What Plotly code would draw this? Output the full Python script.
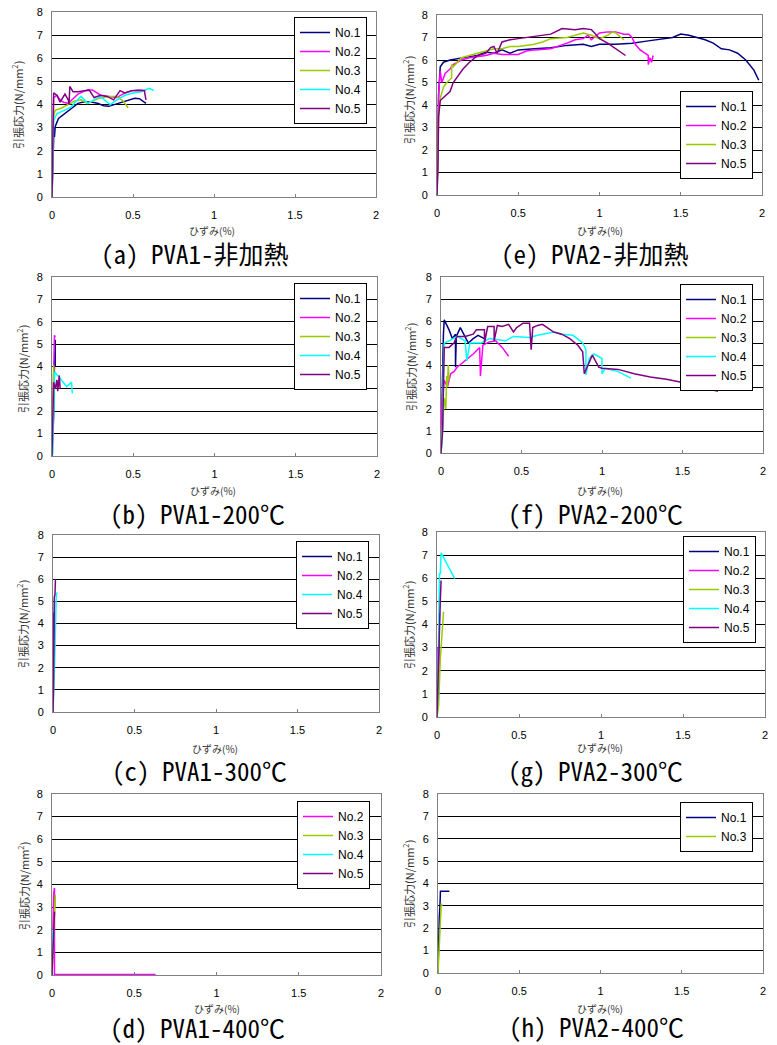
import plotly.graph_objects as go

W, H = 777, 1045

SERIES_COLORS = {"No.1": "#000080", "No.2": "#FF00FF", "No.3": "#99CC00",
                 "No.4": "#00FFFF", "No.5": "#800080"}

X_TICKS = [0, 0.5, 1, 1.5, 2]
Y_TICKS = [0, 1, 2, 3, 4, 5, 6, 7, 8]

CAPTIONS = ["(a) PVA1-非加熱", "(e) PVA2-非加熱", "(b) PVA1-200℃", "(f) PVA2-200℃",
            "(c) PVA1-300℃", "(g) PVA2-300℃", "(d) PVA1-400℃", "(h) PVA2-400℃"]
X_TITLE = "ひずみ(%)"
Y_TITLE = "引張応力(N/mm<sup>2</sup>)"

# ---------------- (a) PVA1-非加熱 ----------------
a_no1_x = [0, 0.005, 0.01, 0.012, 0.015, 0.02, 0.04, 0.08, 0.12, 0.16, 0.2, 0.25, 0.28, 0.32, 0.35, 0.39, 0.45, 0.51, 0.54, 0.58]
a_no1_y = [0, 1.5, 2.5, 3.0, 2.6, 3.05, 3.4, 3.62, 3.84, 4.05, 4.12, 4.1, 4.05, 3.95, 3.92, 4.01, 4.16, 4.27, 4.25, 4.05]
a_no2_x = [0, 0.005, 0.01, 0.03, 0.05, 0.07, 0.1, 0.13, 0.16, 0.19, 0.22, 0.25, 0.3, 0.35, 0.4, 0.45, 0.5, 0.55, 0.58]
a_no2_y = [0, 2.5, 4.3, 4.4, 4.2, 4.1, 4.05, 4.25, 4.45, 4.55, 4.63, 4.63, 4.4, 4.35, 4.3, 4.5, 4.6, 4.62, 4.6]
a_no3_x = [0, 0.005, 0.01, 0.02, 0.06, 0.1, 0.14, 0.18, 0.22, 0.28, 0.35, 0.4, 0.44, 0.47]
a_no3_y = [0, 2.5, 3.5, 3.75, 3.85, 4.0, 4.15, 4.2, 4.05, 4.25, 4.35, 4.35, 4.15, 3.85]
a_no4_x = [0, 0.005, 0.01, 0.03, 0.08, 0.12, 0.15, 0.18, 0.2, 0.22, 0.26, 0.3, 0.34, 0.36, 0.4, 0.45, 0.5, 0.55, 0.6, 0.63]
a_no4_y = [0, 2.8, 3.3, 3.6, 3.75, 3.9, 4.15, 4.35, 4.2, 4.05, 4.2, 4.35, 4.1, 4.0, 4.2, 4.4, 4.5, 4.55, 4.7, 4.6]
a_no5_x = [0, 0.003, 0.006, 0.01, 0.03, 0.05, 0.08, 0.1, 0.105, 0.11, 0.13, 0.16, 0.2, 0.23, 0.26, 0.3, 0.34, 0.38, 0.42, 0.45, 0.49, 0.53, 0.57, 0.575, 0.58]
a_no5_y = [0, 2.0, 4.3, 4.5, 4.4, 4.1, 4.45, 4.2, 4.0, 4.78, 4.55, 4.55, 4.6, 4.62, 4.3, 4.4, 4.35, 4.2, 4.6, 4.5, 4.6, 4.62, 4.6, 4.4, 4.2]

# ---------------- (e) PVA2-非加熱 ----------------
e_no1_x = [0, 0.005, 0.01, 0.02, 0.04, 0.08, 0.15, 0.2, 0.25, 0.3, 0.35, 0.4, 0.45, 0.5, 0.6, 0.7, 0.8, 0.9, 0.95, 1.0, 1.1, 1.2, 1.3, 1.4, 1.45, 1.5, 1.55, 1.6, 1.65, 1.7, 1.75, 1.8, 1.85, 1.9, 1.95, 1.98]
e_no1_y = [0, 2.0, 4.5, 5.7, 5.9, 6.0, 6.1, 6.15, 6.2, 6.35, 6.3, 6.45, 6.3, 6.45, 6.5, 6.55, 6.65, 6.7, 6.6, 6.7, 6.7, 6.75, 6.85, 6.95, 7.0, 7.15, 7.1, 7.0, 6.9, 6.75, 6.5, 6.45, 6.3, 6.0, 5.55, 5.1]
e_no2_x = [0, 0.005, 0.01, 0.02, 0.03, 0.05, 0.08, 0.1, 0.15, 0.2, 0.3, 0.35, 0.4, 0.5, 0.55, 0.6, 0.7, 0.8, 0.85, 0.9, 0.93, 0.95, 1.0, 1.05, 1.1, 1.15, 1.18, 1.2, 1.22, 1.25, 1.3, 1.3, 1.31, 1.32, 1.33]
e_no2_y = [0, 2.0, 4.5, 5.5, 5.0, 5.4, 5.6, 5.8, 6.0, 6.1, 6.2, 6.3, 6.25, 6.25, 6.4, 6.45, 6.5, 6.75, 6.9, 6.95, 7.1, 6.9, 7.2, 7.25, 7.25, 7.15, 7.15, 7.0, 6.7, 6.45, 6.2, 5.8, 6.1, 5.9, 6.2]
e_no3_x = [0, 0.005, 0.01, 0.02, 0.04, 0.06, 0.09, 0.09, 0.1, 0.15, 0.2, 0.25, 0.3, 0.35, 0.4, 0.45, 0.5, 0.55, 0.6, 0.65, 0.7, 0.8, 0.85, 0.9, 0.95, 1.0, 1.05, 1.08, 1.1, 1.15]
e_no3_y = [0, 1.5, 3.5, 4.3, 4.8, 5.0, 5.2, 5.8, 5.7, 6.1, 6.2, 6.3, 6.4, 6.5, 6.5, 6.6, 6.6, 6.65, 6.7, 6.8, 6.95, 7.0, 7.1, 7.2, 7.1, 6.95, 7.1, 7.25, 7.2, 6.9]
e_no5_x = [0, 0.005, 0.01, 0.02, 0.05, 0.08, 0.1, 0.13, 0.16, 0.2, 0.25, 0.3, 0.33, 0.35, 0.37, 0.4, 0.45, 0.5, 0.55, 0.6, 0.65, 0.7, 0.77, 0.85, 0.9, 0.95, 0.97, 1.0, 1.05, 1.1, 1.16]
e_no5_y = [0, 1.0, 3.5, 4.2, 4.4, 4.6, 5.0, 5.3, 5.6, 5.9, 6.2, 6.3, 6.55, 6.6, 6.3, 6.8, 6.9, 6.95, 7.0, 7.05, 7.1, 7.15, 7.4, 7.35, 7.4, 7.35, 7.2, 6.95, 6.75, 6.5, 6.2]

# ---------------- (b) PVA1-200℃ ----------------
b_no1_x = [0, 0.01, 0.015, 0.02, 0.02]
b_no1_y = [0, 1.8, 4.0, 5.2, 4.0]
b_no2_x = [0, 0.01, 0.015, 0.02]
b_no2_y = [0, 3.0, 5.4, 5.3]
b_no3_x = [0, 0.005, 0.01, 0.012]
b_no3_y = [0, 2.5, 4.05, 3.8]
b_no4_x = [0, 0.005, 0.01, 0.016, 0.04, 0.06, 0.09, 0.12, 0.125]
b_no4_y = [0, 0.1, 2.0, 3.75, 3.55, 3.35, 3.1, 3.3, 2.8]
b_no5_x = [0, 0.005, 0.01, 0.02, 0.03, 0.035, 0.045, 0.05]
b_no5_y = [0, 1.5, 3.3, 3.0, 3.4, 2.9, 3.6, 3.0]

# ---------------- (f) PVA2-200℃ ----------------
f_no1_x = [0, 0.005, 0.01, 0.015, 0.02, 0.05, 0.07, 0.09, 0.09, 0.095, 0.12, 0.15, 0.17, 0.2, 0.23, 0.27]
f_no1_y = [0, 2.0, 4.5, 5.4, 6.05, 5.6, 5.2, 5.4, 3.9, 5.3, 5.7, 5.3, 5.0, 5.2, 5.35, 5.2]
f_no2_x = [0, 0.005, 0.02, 0.04, 0.06, 0.08, 0.1, 0.15, 0.2, 0.24, 0.245, 0.26, 0.3, 0.34, 0.38, 0.42]
f_no2_y = [0, 2.1, 3.3, 3.0, 3.6, 3.7, 3.9, 4.2, 4.5, 4.8, 3.5, 4.9, 5.05, 5.1, 4.8, 4.4]
f_no3_x = [0, 0.01, 0.02, 0.03, 0.035, 0.04, 0.045, 0.05]
f_no3_y = [0, 1.5, 2.5, 2.0, 3.5, 3.0, 4.0, 3.3]
f_no4_x = [0, 0.01, 0.015, 0.02, 0.05, 0.1, 0.15, 0.16, 0.18, 0.25, 0.3, 0.4, 0.45, 0.55, 0.6, 0.7, 0.75, 0.82, 0.88, 0.9, 0.9, 0.92, 0.95, 0.98, 1.0, 1.0, 1.02, 1.1, 1.18]
f_no4_y = [0, 1.0, 4.0, 5.0, 5.1, 5.3, 5.1, 4.2, 5.0, 5.0, 5.2, 5.1, 5.3, 5.25, 5.35, 5.5, 5.4, 5.35, 5.0, 4.7, 3.55, 4.3, 4.5, 4.4, 4.3, 3.6, 3.85, 3.7, 3.4]
f_no5_x = [0, 0.01, 0.02, 0.05, 0.08, 0.1, 0.15, 0.2, 0.22, 0.27, 0.27, 0.29, 0.33, 0.33, 0.35, 0.38, 0.42, 0.45, 0.47, 0.51, 0.55, 0.56, 0.57, 0.6, 0.63, 0.66, 0.7, 0.75, 0.8, 0.85, 0.88, 0.89, 0.94, 0.98, 1.0, 1.1, 1.2, 1.3, 1.4, 1.5, 1.6, 1.72]
f_no5_y = [0, 1.0, 4.8, 4.8, 5.0, 5.3, 5.3, 5.4, 5.6, 5.6, 5.0, 5.75, 5.75, 5.1, 5.8, 5.75, 5.85, 5.5, 5.7, 5.9, 5.9, 4.7, 5.7, 5.8, 5.85, 5.7, 5.5, 5.4, 5.2, 4.9, 4.6, 3.6, 4.45, 3.9, 3.85, 3.8, 3.6, 3.45, 3.35, 3.2, 3.05, 2.8]

# ---------------- (c) PVA1-300℃ ----------------
c_no1_x = [0, 0.003, 0.006]
c_no1_y = [0, 2.0, 4.5]
c_no2_x = [0, 0.005, 0.01]
c_no2_y = [0, 3.0, 5.0]
c_no4_x = [0, 0.005, 0.01, 0.02, 0.025]
c_no4_y = [0, 1.0, 2.2, 5.3, 5.4]
c_no5_x = [0, 0.003, 0.008, 0.012, 0.015]
c_no5_y = [0, 1.0, 5.2, 5.3, 6.0]

# ---------------- (g) PVA2-300℃ ----------------
g_no1_x = [0, 0.005, 0.01, 0.015]
g_no1_y = [0, 0.8, 2.5, 4.5]
g_no2_x = [0, 0.003, 0.005]
g_no2_y = [0, 3.0, 2.5]
g_no3_x = [0, 0.01, 0.02, 0.03, 0.04]
g_no3_y = [0, 0.5, 2.5, 3.5, 4.55]
g_no4_x = [0, 0.005, 0.01, 0.015, 0.02, 0.025, 0.108]
g_no4_y = [0, 1.0, 3.5, 6.2, 6.2, 7.1, 5.98]
g_no5_x = [0, 0.005, 0.015, 0.02, 0.025]
g_no5_y = [0, 1.5, 4.5, 5.0, 5.9]

# ---------------- (d) PVA1-400℃ ----------------
d_no2_x = [0, 0.005, 0.01, 0.015, 0.015, 0.63]
d_no2_y = [0, 2.0, 3.6, 3.85, 0.02, 0.02]
d_no3_x = [0, 0.005, 0.01, 0.015, 0.02, 0.02]
d_no3_y = [0, 1.0, 2.0, 3.0, 3.55, 3.0]
d_no4_x = [0, 0.003, 0.005, 0.006]
d_no4_y = [0, 1.0, 2.0, 1.8]
d_no5_x = [0, 0.005, 0.01, 0.015, 0.015]
d_no5_y = [0, 1.0, 2.0, 2.8, 2.7]

# ---------------- (h) PVA2-400℃ ----------------
h_no1_x = [0, 0.003, 0.008, 0.012, 0.015, 0.015, 0.07]
h_no1_y = [0, 1.5, 2.5, 3.0, 3.4, 3.65, 3.65]
h_no3_x = [0, 0.005, 0.01, 0.015, 0.02, 0.025]
h_no3_y = [0, 1.0, 2.0, 2.5, 3.1, 3.0]

PANEL_SERIES = [
    [("No.1", a_no1_x, a_no1_y), ("No.2", a_no2_x, a_no2_y), ("No.3", a_no3_x, a_no3_y),
     ("No.4", a_no4_x, a_no4_y), ("No.5", a_no5_x, a_no5_y)],
    [("No.1", e_no1_x, e_no1_y), ("No.2", e_no2_x, e_no2_y), ("No.3", e_no3_x, e_no3_y),
     ("No.5", e_no5_x, e_no5_y)],
    [("No.1", b_no1_x, b_no1_y), ("No.2", b_no2_x, b_no2_y), ("No.3", b_no3_x, b_no3_y),
     ("No.4", b_no4_x, b_no4_y), ("No.5", b_no5_x, b_no5_y)],
    [("No.1", f_no1_x, f_no1_y), ("No.2", f_no2_x, f_no2_y), ("No.3", f_no3_x, f_no3_y),
     ("No.4", f_no4_x, f_no4_y), ("No.5", f_no5_x, f_no5_y)],
    [("No.1", c_no1_x, c_no1_y), ("No.2", c_no2_x, c_no2_y), ("No.4", c_no4_x, c_no4_y),
     ("No.5", c_no5_x, c_no5_y)],
    [("No.1", g_no1_x, g_no1_y), ("No.2", g_no2_x, g_no2_y), ("No.3", g_no3_x, g_no3_y),
     ("No.4", g_no4_x, g_no4_y), ("No.5", g_no5_x, g_no5_y)],
    [("No.2", d_no2_x, d_no2_y), ("No.3", d_no3_x, d_no3_y), ("No.4", d_no4_x, d_no4_y),
     ("No.5", d_no5_x, d_no5_y)],
    [("No.1", h_no1_x, h_no1_y), ("No.3", h_no3_x, h_no3_y)],
]

# ---------------- layout geometry (pixels) ----------------
PLOT_BOX = [  # x0, x1, ytop, ybottom
    (52, 376, 12, 197), (437, 762, 15, 195),
    (52, 377, 277, 456), (441, 763, 277, 453),
    (53, 379, 535, 712), (437, 765, 532, 717),
    (52, 381, 794, 975), (438, 763, 794, 973),
]
LEGEND_POS = [(367, 17), (753, 91), (367, 283), (753, 284), (369, 541), (756, 536), (370, 801), (753, 802)]
CAPTION_POS = [(195, 253), (595, 253), (197, 513), (595, 513), (199, 770), (595, 770), (197, 1027), (596, 1026)]
XTITLE_POS = [(212, 230), (600, 230), (213, 490), (600, 490), (215, 748), (600, 747), (217, 1008), (600, 1008)]
YTITLE_POS = [(18, 105), (408, 100), (22, 369), (410, 367), (22, 624), (408, 625), (23, 886), (408, 884)]

CJK = "Noto Sans Mono CJK JP, Noto Sans CJK JP"
CJK_UI = "Noto Sans CJK JP"
LAT = "Liberation Sans, Arial"

fig = go.Figure()
layout = dict(width=W, height=H, margin=dict(l=0, r=0, t=0, b=0, autoexpand=False),
              paper_bgcolor="white", plot_bgcolor="white", showlegend=True,
              font=dict(family=LAT, color="black", size=11))
annotations = []

for i, series in enumerate(PANEL_SERIES):
    k = i + 1
    sfx = "" if k == 1 else str(k)
    x0, x1, yt, yb = PLOT_BOX[i]
    legname = "legend" if k == 1 else f"legend{k}"
    for name, xs, ys in series:
        fig.add_trace(go.Scatter(
            x=xs, y=ys, mode="lines", name=name,
            line=dict(color=SERIES_COLORS[name], width=1.5),
            xaxis=f"x{sfx}", yaxis=f"y{sfx}", legend=legname,
        ))
    layout[f"xaxis{sfx}"] = dict(
        domain=[x0 / W, x1 / W], anchor=f"y{sfx}", range=[0, 2], automargin=False,
        tickvals=X_TICKS, showgrid=False, zeroline=False,
        showline=True, linecolor="#808080", linewidth=1, mirror=True,
        ticks="inside", ticklen=3, tickcolor="#808080",
        ticklabelstandoff=8, tickfont=dict(family=LAT, size=11, color="black"),
    )
    layout[f"yaxis{sfx}"] = dict(
        domain=[1 - yb / H, 1 - yt / H], anchor=f"x{sfx}", range=[0, 8], automargin=False,
        tickvals=Y_TICKS, showgrid=True, gridcolor="black", gridwidth=1,
        zeroline=False, showline=True, linecolor="#808080", linewidth=1, mirror=True,
        ticks="", ticklabelstandoff=6, tickfont=dict(family=LAT, size=11, color="black"),
    )
    lx, ly = LEGEND_POS[i]
    layout[legname] = dict(
        x=lx / W, y=1 - ly / H, xanchor="right", yanchor="top",
        bgcolor="white", bordercolor="black", borderwidth=1,
        font=dict(family=LAT, size=12, color="black"),
        itemwidth=30, tracegroupgap=0,
    )
    cx, cy = CAPTION_POS[i]
    annotations.append(dict(text=CAPTIONS[i], x=cx / W, y=1 - cy / H, xref="paper", yref="paper",
                            showarrow=False, xanchor="center", yanchor="middle", borderpad=0,
                            font=dict(family=CJK, size=25, color="black")))
    tx, ty = XTITLE_POS[i]
    annotations.append(dict(text=X_TITLE, x=tx / W, y=1 - ty / H, xref="paper", yref="paper",
                            showarrow=False, xanchor="center", yanchor="middle",
                            font=dict(family=CJK_UI, size=10, color="#333333")))
    vx, vy = YTITLE_POS[i]
    annotations.append(dict(text=Y_TITLE, x=vx / W, y=1 - vy / H, xref="paper", yref="paper",
                            showarrow=False, xanchor="center", yanchor="middle", textangle=-90,
                            font=dict(family=CJK_UI, size=11, color="#333333")))

layout["annotations"] = annotations
fig.update_layout(**layout)
fig.write_html(
    "out.html",
    config={"displayModeBar": False},
    post_script="document.body.style.margin='0';document.body.style.padding='0';"
                "document.body.style.overflow='hidden';",
)
